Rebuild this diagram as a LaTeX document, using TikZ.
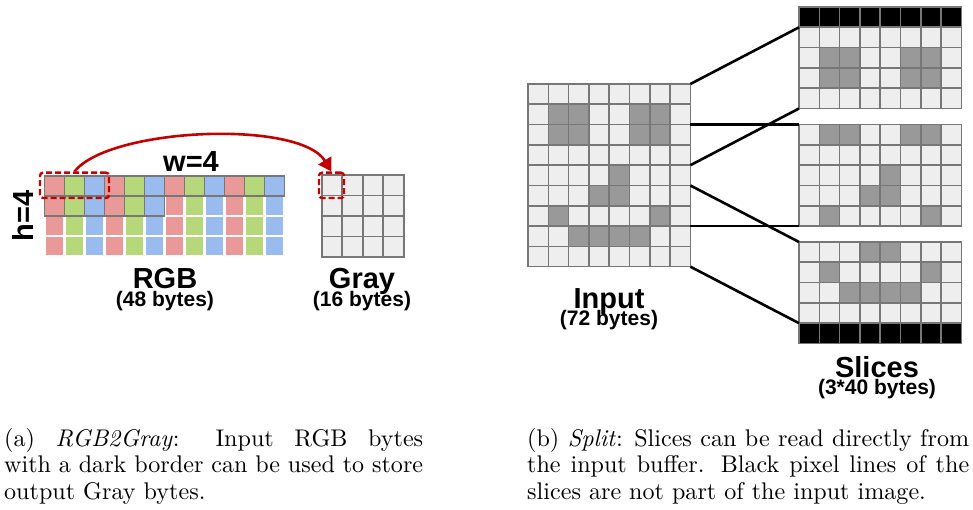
\documentclass[tikz,border=0pt]{standalone}
\usepackage{fontspec}
\newfontfamily\labfont{Liberation Sans}
\newfontfamily\capfont{lmroman10}[Extension=.otf, UprightFont=*-regular, ItalicFont=*-italic, BoldFont=*-bold]
\usetikzlibrary{arrows.meta}
\definecolor{pixlight}{HTML}{EEEEEE}
\definecolor{pixdark}{HTML}{999999}
\definecolor{gridgray}{HTML}{777777}
\definecolor{rgbred}{HTML}{EA9999}
\definecolor{rgbgreen}{HTML}{B6D77A}
\definecolor{rgbblue}{HTML}{99BBEE}
\definecolor{darkred}{HTML}{C00000}
\tikzset{
  pixcell/.style={draw=gridgray, line width=1.6pt},
  gridline/.style={draw=gridgray, line width=1.8pt},
  reddash/.style={draw=darkred, line width=2.4pt, dash pattern=on 6pt off 3pt, rounded corners=3pt, inner sep=0pt},
  redarrow/.style={draw=darkred, line width=2.6pt, -{Triangle[length=13pt,width=15pt]}},
  conn/.style={draw=black, line width=2.6pt},
  lab/.style={inner sep=0pt, anchor=base, font=\fontsize{29}{30}\labfont\bfseries\selectfont},
  sublab/.style={inner sep=0pt, anchor=base, font=\fontsize{21}{22}\labfont\bfseries\selectfont},
  capt/.style={inner sep=0pt, anchor=base west, font=\capfont\fontsize{24.1}{26.5}\selectfont},
}
\def\cs{20.3}
% cell: x0, y0, col, row, fill
\newcommand\pcell[5]{\filldraw[pixcell, fill=#5] ({#1+#3*\cs},{#2+#4*\cs}) rectangle ++(\cs,\cs);}
% light grid: x0, y0, cols-1, rows-1
\newcommand\lightgrid[4]{\foreach \ci in {0,...,#3}{\foreach \ri in {0,...,#4}{\pcell{#1}{#2}{\ci}{\ri}{pixlight}}}}
% dark cells: x0, y0, row offset, local row count
\newcommand\darkcells[4]{%
  \foreach \c/\r in {1/1,2/1,5/1,6/1,1/2,2/2,5/2,6/2,4/4,3/5,4/5,1/6,6/6,2/7,3/7,4/7,5/7}{%
    \pgfmathtruncatemacro\lr{\r+#3}%
    \ifnum\lr>-1 \ifnum\lr<#4 \pcell{#1}{#2}{\c}{\lr}{pixdark}\fi\fi
  }}
% black row: x0, y0, row
\newcommand\blackrow[3]{\foreach \ci in {0,...,7}{\pcell{#1}{#2}{\ci}{#3}{black}}}
\begin{document}
\begin{tikzpicture}[x=1pt,y=-1pt]
\useasboundingbox (0,0) rectangle (973,510);

% ---------- (a) RGB grid ----------
\foreach \i in {0,...,11}{\foreach \j in {0,...,3}{%
  \pgfmathtruncatemacro\m{mod(\i,3)}%
  \ifcase\m \def\cc{rgbred}\or \def\cc{rgbgreen}\or \def\cc{rgbblue}\fi
  \pgfmathtruncatemacro\outl{(\j==0)||((\j==1)&&(\i<6))}%
  \ifnum\outl=1
    \fill[\cc] ({44.5+20*\i},{175.7+20*\j}) rectangle ++(20,20);
  \else
    \fill[\cc] ({44.5+20*\i+1.1},{175.7+20*\j+1.1}) rectangle ++(17.8,17.8);
  \fi
}}
\foreach \i in {0,...,11}{\draw[gridline] ({44.5+20*\i},175.7) rectangle ++(20,20);}
\foreach \i in {0,...,5}{\draw[gridline] ({44.5+20*\i},195.7) rectangle ++(20,20);}

% gray grid
\foreach \i in {0,...,3}{\foreach \j in {0,...,3}{%
  \filldraw[pixcell, fill=pixlight] ({321.7+20.5*\i},{175+20.5*\j}) rectangle ++(20.5,20.5);}}

\node[reddash, minimum width=69pt, minimum height=25.3pt] (srcbox) at (74.5,185.35) {};
\node[reddash, minimum width=25pt, minimum height=25.3pt] (dstbox) at (331.5,185.35) {};
\draw[redarrow] (srcbox.north) .. controls +(35,-44) and +(-32,-52) .. (dstbox.north);

\node[lab] (wlab) at (191,171.5) {w=4};
\node[lab, rotate=90] (hlab) at (33,216) {h=4};
\node[lab] (rgblab) at (165,288) {RGB};
\node[sublab] (rgbbytes) at (165,306.5) {(48 bytes)};
\node[lab] (graylab) at (362,288) {Gray};
\node[sublab] (graybytes) at (362,306.5) {(16 bytes)};

% ---------- (b) input grid and slices ----------
\lightgrid{528}{84}{7}{8}
\darkcells{528}{84}{0}{9}
% slice 1: black + input rows 0..3
\lightgrid{799}{7}{7}{4}
\blackrow{799}{7}{0}
\darkcells{799}{7}{1}{5}
% slice 2: input rows 2..6
\lightgrid{799}{124.6}{7}{4}
\darkcells{799}{124.6}{-2}{5}
% slice 3: input rows 5..8 + black
\lightgrid{799}{242}{7}{4}
\darkcells{799}{242}{-5}{4}
\blackrow{799}{242}{4}

\coordinate (inR0) at (690.4,84);
\coordinate (inR2) at (690.4,{84+2*\cs});
\coordinate (inR4) at (690.4,{84+4*\cs});
\coordinate (inR5) at (690.4,{84+5*\cs});
\coordinate (inR7) at (690.4,{84+7*\cs});
\coordinate (inR9) at (690.4,{84+9*\cs});
\coordinate (sOneTop) at (799,{7+\cs});
\coordinate (sOneBot) at (799,{7+5*\cs});
\coordinate (sTwoTop) at (799,124.6);
\coordinate (sTwoBot) at (799,{124.6+5*\cs});
\coordinate (sThreeTop) at (799,242);
\coordinate (sThreeBot) at (799,{242+4*\cs});

\draw[conn] (inR0) -- (sOneTop);
\draw[conn] (inR4) -- (sOneBot);
\draw[conn] (inR2) -- (sTwoTop);
\draw[conn] (inR7) -- (sTwoBot);
\draw[conn] (inR5) -- (sThreeTop);
\draw[conn] (inR9) -- (sThreeBot);

\node[lab] (inlab) at (609,308) {Input};
\node[sublab] (inbytes) at (609,325.5) {(72 bytes)};
\node[lab] (slab) at (877,377) {Slices};
\node[sublab] (sbytes) at (877,394.5) {(3*40 bytes)};

% ---------- captions ----------
\node[capt] (capa) at (4,446) {\parbox[t]{419pt}{(a) \textit{RGB2Gray}: Input RGB bytes\linebreak with a dark border can be used to store output Gray bytes.}};
\node[capt] (capb) at (527,446) {\parbox[t]{442pt}{(b) \textit{Split}: Slices can be read directly from the input buffer. Black pixel lines of the slices are not part of the input image.}};
\end{tikzpicture}
\end{document}
